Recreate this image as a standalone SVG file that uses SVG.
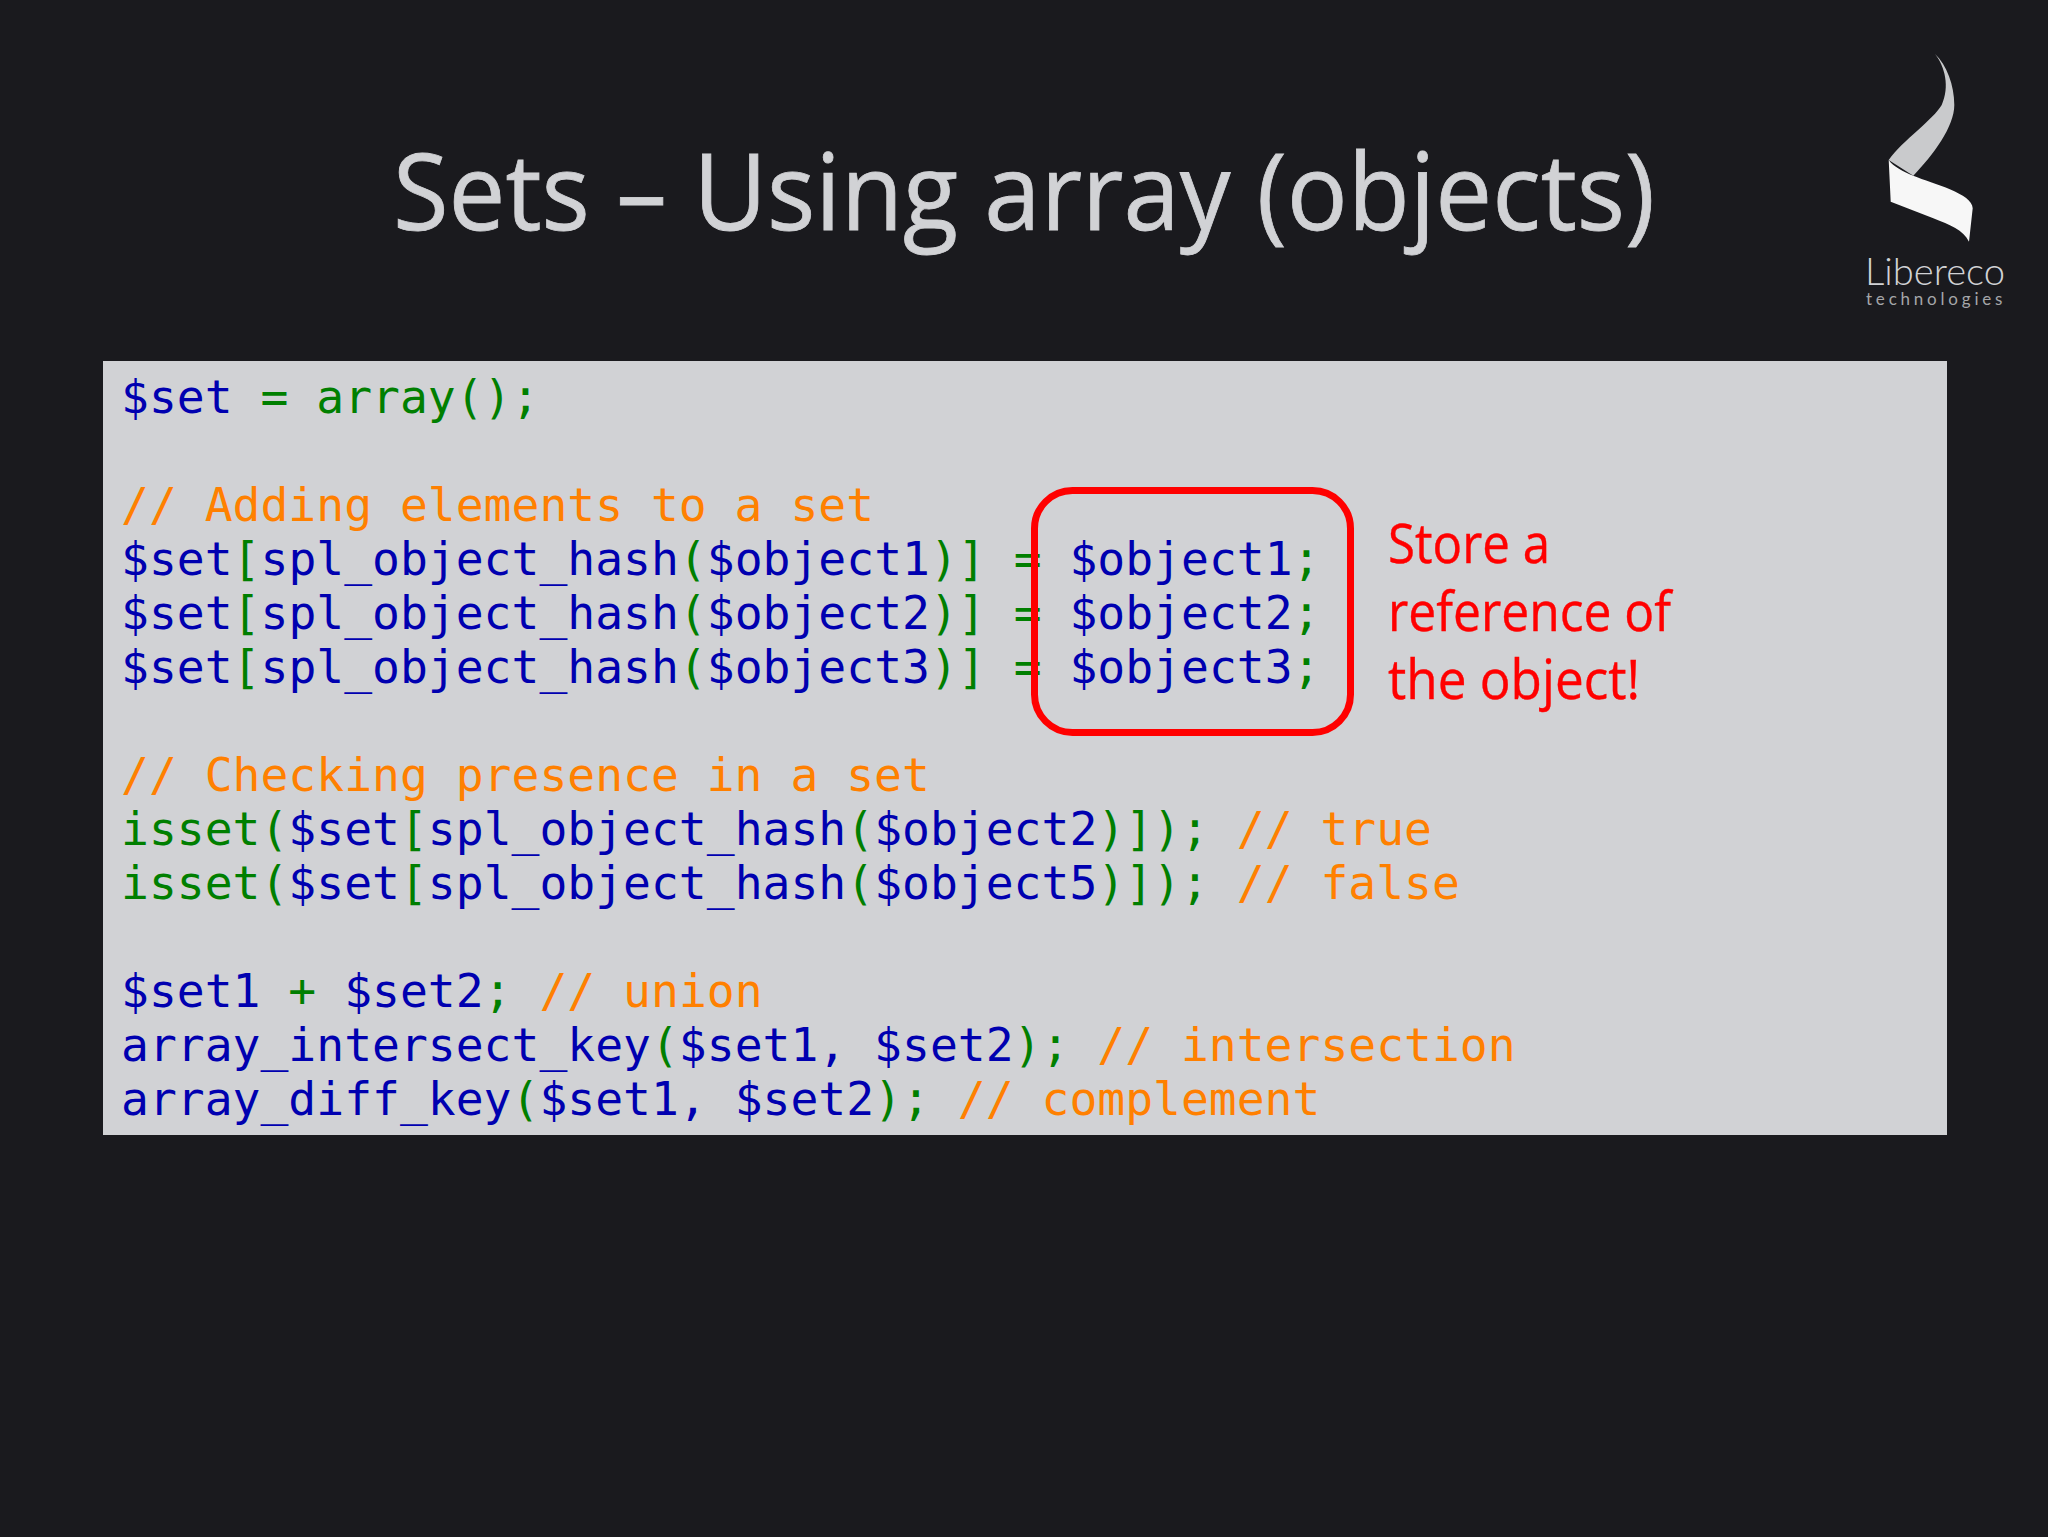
<svg xmlns="http://www.w3.org/2000/svg" width="2048" height="1537" viewBox="0 0 2048 1537">
<style>
.code{font-family:"DejaVu Sans Mono","Liberation Mono",monospace;font-size:46.33px;fill:#0000b0;white-space:pre}
.g{fill:#007f00}.o{fill:#ff8000}.b{fill:#0000b0}
.note{font-family:"Open Sans","Noto Sans",sans-serif;font-size:55px;fill:#ff0000;stroke:#ff0000;stroke-width:.4}
</style>
<rect width="2048" height="1537" fill="#1a1a1e"/>
<text id="title" x="393" y="230" font-family="Open Sans, Noto Sans, sans-serif" font-size="106" fill="#d1d2d5" stroke="#d1d2d5" stroke-width=".8" textLength="1262" lengthAdjust="spacingAndGlyphs">Sets – Using array (objects)</text>
<g id="logo">
<path d="M1935 54C1946.7 65 1954.3 85 1954.3 105C1954.3 126.7 1933.3 155 1913.3 175.7L1888.7 160C1903 140 1933 120 1941.7 105C1950 86.7 1945 66.7 1935 54Z" fill="#c9cacc"/>
<path d="M1888.7 160C1893.3 166.7 1903.3 171.7 1913.3 175.7C1933.3 184 1972.7 193.3 1972.7 208.3L1969 241.7C1963.3 230 1950 225 1933.3 218.3L1890.7 201.7Z" fill="#f7f7f7"/>
<text x="1865" y="285" font-family="Lato, Open Sans, sans-serif" font-weight="300" font-size="37" fill="#d1d2d5" textLength="140" lengthAdjust="spacingAndGlyphs">Libereco</text>
<text x="1866" y="305" font-family="Lato, Open Sans, sans-serif" font-size="17" fill="#a5a6a9" letter-spacing="3.8">technologies</text>
</g>
<g id="code-panel">
<rect x="103" y="361" width="1844" height="774" fill="#d1d2d5"/>
<text class="code" x="121" y="413">$set<tspan class="g"> = array();</tspan></text>
<text class="code o" x="121" y="521">// Adding elements to a set</text>
<text class="code" x="121" y="575">$set<tspan class="g">[</tspan>spl_object_hash<tspan class="g">(</tspan>$object1<tspan class="g">)]</tspan> <tspan class="g">=</tspan> $object1<tspan class="g">;</tspan></text>
<text class="code" x="121" y="629">$set<tspan class="g">[</tspan>spl_object_hash<tspan class="g">(</tspan>$object2<tspan class="g">)]</tspan> <tspan class="g">=</tspan> $object2<tspan class="g">;</tspan></text>
<text class="code" x="121" y="683">$set<tspan class="g">[</tspan>spl_object_hash<tspan class="g">(</tspan>$object3<tspan class="g">)]</tspan> <tspan class="g">=</tspan> $object3<tspan class="g">;</tspan></text>
<text class="code o" x="121" y="791">// Checking presence in a set</text>
<text class="code g" x="121" y="845">isset(<tspan class="b">$set</tspan>[<tspan class="b">spl_object_hash</tspan>(<tspan class="b">$object2</tspan>)]); <tspan class="o">// true</tspan></text>
<text class="code g" x="121" y="899">isset(<tspan class="b">$set</tspan>[<tspan class="b">spl_object_hash</tspan>(<tspan class="b">$object5</tspan>)]); <tspan class="o">// false</tspan></text>
<text class="code" x="121" y="1007">$set1 <tspan class="g">+</tspan> $set2<tspan class="g">;</tspan> <tspan class="o">// union</tspan></text>
<text class="code" x="121" y="1061">array_intersect_key<tspan class="g">(</tspan>$set1, $set2<tspan class="g">);</tspan> <tspan class="o">// intersection</tspan></text>
<text class="code" x="121" y="1115">array_diff_key<tspan class="g">(</tspan>$set1, $set2<tspan class="g">);</tspan> <tspan class="o">// complement</tspan></text>
</g>
<g id="highlight">
<rect x="1034.5" y="490.5" width="316" height="242" rx="38" ry="38" fill="none" stroke="#ff0000" stroke-width="7"/>
<text class="note" x="1388" y="563" textLength="162" lengthAdjust="spacingAndGlyphs">Store a</text>
<text class="note" x="1388" y="631" textLength="283" lengthAdjust="spacingAndGlyphs">reference of</text>
<text class="note" x="1388" y="699" textLength="252" lengthAdjust="spacingAndGlyphs">the object!</text>
</g>
</svg>
